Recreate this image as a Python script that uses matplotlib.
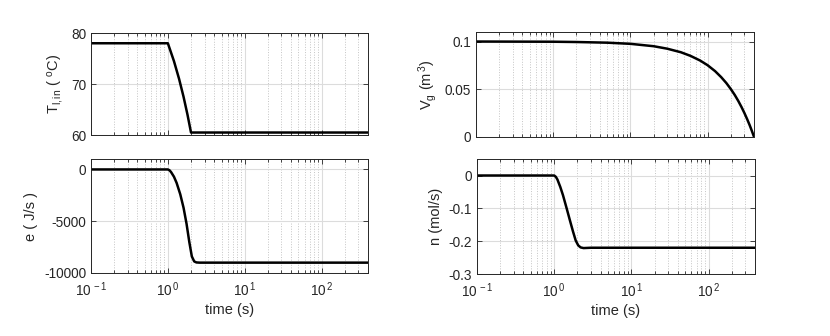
import matplotlib
matplotlib.use("Agg")
import matplotlib.pyplot as plt
from matplotlib.ticker import LogLocator, FixedLocator, NullFormatter, NullLocator

plt.rcParams['font.family'] = ['Liberation Sans', 'DejaVu Sans']
plt.rcParams['mathtext.fontset'] = 'custom'
plt.rcParams['mathtext.rm'] = 'Liberation Sans'
plt.rcParams['mathtext.it'] = 'Liberation Sans'
plt.rcParams['axes.unicode_minus'] = False

# ---- data ----
t_T = [0.1, 1.0, 1.2, 1.4, 1.6, 1.8, 2.0, 400]
T_lin = [78, 78, 74.5, 71, 67.5, 64, 60.5, 60.5]

t_e = [0.1, 1.0, 1.05, 1.1, 1.2, 1.3, 1.45, 1.6, 1.75, 1.9, 2.05, 2.2, 2.35, 2.6, 400]
e_vals = [0, 0, -80, -250, -700, -1300, -2400, -3700, -5250, -7000, -8400, -8880, -8980, -9000, -9000]

t_V = [0.1, 1, 2, 5, 10, 20, 30, 45, 60, 80, 100, 125, 150, 175, 200, 225, 250,
       275, 300, 325, 350, 375, 400]
V_g = [0.1, 0.0998, 0.0995, 0.0988, 0.0976, 0.0951, 0.0925, 0.0888, 0.085, 0.0801,
       0.0752, 0.069, 0.0627, 0.0565, 0.0502, 0.044, 0.0377, 0.0314, 0.0251, 0.0188,
       0.0126, 0.0063, 0.0]

t_n = [0.1, 1.0, 1.05, 1.1, 1.2, 1.3, 1.45, 1.6, 1.75, 1.9, 2.05, 2.2, 2.4, 3.0, 400]
n_vals = [0, 0, -0.004, -0.012, -0.035, -0.06, -0.1, -0.137, -0.17, -0.198, -0.213,
          -0.219, -0.221, -0.220, -0.220]

x_ticks = [0.1, 1, 10, 100]
x_ticklabels = ['10$^{\\,-1}$', '10$^{\\,0}$', '10$^{\\,1}$', '10$^{\\,2}$']
x_range = (0.1, 400)

T_ticks = [60, 70, 80]
e_ticks = [-10000, -5000, 0]
V_ticks = [0, 0.05, 0.1]
V_ticklabels = ['0', '0.05', '0.1']
n_ticks = [-0.3, -0.2, -0.1, 0]
n_ticklabels = ['-0.3', '-0.2', '-0.1', '0']

# ---- figure ----
fig = plt.figure(figsize=(8.3, 3.36), dpi=100)
text_col = '#262626'

def style(ax, show_xlabels):
    ax.set_xscale('log')
    ax.set_xlim(*x_range)
    ax.xaxis.set_major_locator(FixedLocator(x_ticks))
    ax.xaxis.set_minor_locator(LogLocator(base=10, subs=range(2, 10), numticks=20))
    ax.xaxis.set_minor_formatter(NullFormatter())
    if show_xlabels:
        ax.set_xticklabels(x_ticklabels)
        ax.set_xlabel('time (s)', fontsize=10.5, color=text_col, labelpad=3)
    else:
        ax.set_xticklabels([])
    ax.yaxis.set_minor_locator(NullLocator())
    ax.tick_params(which='both', direction='in', top=True, right=True,
                   colors=text_col, labelsize=9.8, width=0.6)
    ax.tick_params(which='major', length=3.5)
    ax.tick_params(which='minor', length=2)
    ax.tick_params(axis='x', pad=5)
    ax.grid(True, which='major', color='#dcdcdc', linestyle='-', linewidth=0.8)
    ax.grid(True, which='minor', axis='x', color='#c4c4c4', linestyle=':', linewidth=0.7)
    ax.set_axisbelow(True)
    for s in ax.spines.values():
        s.set_color(text_col)
        s.set_linewidth(0.7)

lw = 1.8

ax1 = fig.add_axes([0.1096, 0.598, 0.3337, 0.3036])
ax1.plot(t_T, T_lin, color='black', lw=lw)
ax1.set_ylim(60, 80)
ax1.set_yticks(T_ticks)
style(ax1, False)
ax1.set_ylabel('T$_{l,in}$ ( $^{o}$C)', fontsize=10.5, color=text_col)

ax2 = fig.add_axes([0.1096, 0.1875, 0.3337, 0.339])
ax2.plot(t_e, e_vals, color='black', lw=lw)
ax2.set_ylim(-10000, 1000)
ax2.set_yticks(e_ticks)
ax2.set_yticklabels([str(v) for v in e_ticks])
style(ax2, True)
ax2.set_ylabel('e ( J/s )', fontsize=10.5, color=text_col)

ax3 = fig.add_axes([0.5735, 0.5923, 0.335, 0.3125])
ax3.plot(t_V, V_g, color='black', lw=lw)
ax3.set_ylim(0, 0.11)
ax3.set_yticks(V_ticks)
ax3.set_yticklabels(V_ticklabels)
style(ax3, False)
ax3.set_ylabel('V$_{g}$ (m$^{\\,3}$)', fontsize=10.5, color=text_col)

ax4 = fig.add_axes([0.5747, 0.1845, 0.335, 0.342])
ax4.plot(t_n, n_vals, color='black', lw=lw)
ax4.set_ylim(-0.3, 0.05)
ax4.set_yticks(n_ticks)
ax4.set_yticklabels(n_ticklabels)
style(ax4, True)
ax4.set_ylabel('n (mol/s)', fontsize=10.5, color=text_col)

fig.savefig('out.png', dpi=100, facecolor='white')
